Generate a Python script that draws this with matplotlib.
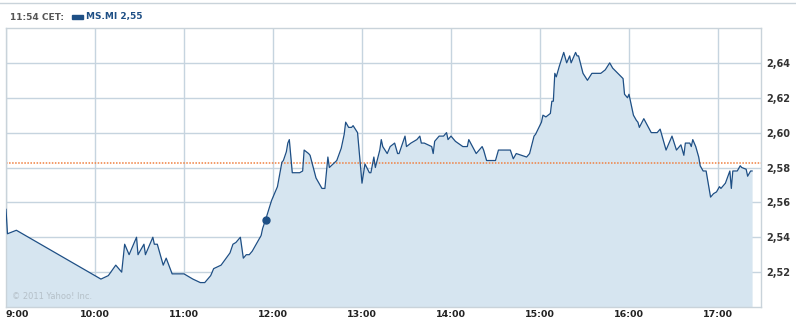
import numpy as np
import matplotlib
matplotlib.use("Agg")
import matplotlib.pyplot as plt
from matplotlib.lines import Line2D
from matplotlib.patches import Rectangle

# minutes after 9:00 and price (EUR) for MS.MI
minutes = [0, 1, 7, 64, 69, 74, 78, 80, 83, 88, 89, 93, 94, 99, 100, 102, 106, 108, 112, 120,
           124, 126, 131, 134, 138, 140, 145, 151, 153, 155, 158, 160, 162, 164, 166, 172, 173,
           175, 179, 183, 186, 187, 189, 190, 191, 193, 198, 200, 201, 204, 205, 209, 213, 215,
           217, 218, 223, 226, 228, 229, 231, 233, 234, 237, 240, 242, 245, 246, 248, 249, 252,
           253, 254, 257, 259, 262, 264, 265, 269, 270, 273, 277, 279, 280, 282, 287, 288, 289,
           292, 295, 297, 298, 300, 303, 308, 311, 312, 317, 321, 322, 324, 330, 332, 339, 340,
           342, 344, 351, 353, 356, 357, 361, 362, 364, 367, 368, 369, 370, 371, 373, 376, 378,
           380, 381, 384, 385, 386, 389, 392, 395, 401, 404, 407, 409, 416, 417, 419, 420, 423,
           425, 426, 427, 430, 435, 439, 441, 445, 449, 452, 455, 457, 458, 461, 462, 463, 465,
           467, 468, 470, 472, 475, 477, 479, 481, 482, 485, 488, 489, 490, 493, 495, 496, 499,
           500, 502, 503]
prices = [2.556, 2.542, 2.544, 2.516, 2.518, 2.524, 2.520, 2.536, 2.530, 2.540, 2.530, 2.536,
          2.530, 2.540, 2.536, 2.536, 2.524, 2.528, 2.519, 2.519,
          2.517, 2.516, 2.514, 2.514, 2.518, 2.522, 2.524, 2.531, 2.536, 2.537, 2.540, 2.528,
          2.530, 2.530, 2.532, 2.541, 2.545,
          2.550, 2.561, 2.569, 2.583, 2.584, 2.589, 2.594, 2.596, 2.577, 2.577, 2.578, 2.590,
          2.588, 2.587, 2.574, 2.568, 2.568,
          2.586, 2.580, 2.584, 2.591, 2.599, 2.606, 2.603, 2.603, 2.604, 2.600, 2.571, 2.582,
          2.577, 2.577, 2.586, 2.580, 2.590,
          2.596, 2.592, 2.588, 2.592, 2.594, 2.588, 2.588, 2.598, 2.592, 2.594, 2.596, 2.598,
          2.594, 2.594, 2.592, 2.588, 2.595,
          2.598, 2.598, 2.600, 2.596, 2.598, 2.595, 2.592, 2.592, 2.596, 2.588, 2.592, 2.590,
          2.584, 2.584, 2.590, 2.590, 2.590,
          2.585, 2.588, 2.586, 2.588, 2.598, 2.599, 2.606, 2.610, 2.609, 2.611, 2.618, 2.618,
          2.634, 2.632, 2.638, 2.646, 2.640,
          2.644, 2.640, 2.646, 2.644, 2.644, 2.634, 2.630, 2.634, 2.634, 2.636, 2.640, 2.637,
          2.631, 2.622, 2.620, 2.622, 2.610,
          2.607, 2.606, 2.603, 2.608, 2.600, 2.600, 2.602, 2.590, 2.598, 2.590, 2.593, 2.587,
          2.594, 2.594, 2.592, 2.596, 2.592,
          2.586, 2.581, 2.578, 2.578, 2.563, 2.565, 2.566, 2.569, 2.568, 2.571, 2.578, 2.568,
          2.578, 2.578, 2.581, 2.580, 2.579,
          2.575, 2.578, 2.578]

prev_close = 2.5823
marker_min, marker_price = 175, 2.550
hour_labels = ["9:00", "10:00", "11:00", "12:00", "13:00", "14:00", "15:00", "16:00", "17:00"]
price_ticks = [2.52, 2.54, 2.56, 2.58, 2.60, 2.62, 2.64]

line_col = "#1e4f85"
fill_col = "#d6e5f0"
grid_col = "#c6d4df"

fig = plt.figure(figsize=(7.96, 3.2), dpi=100)
W, H = 796, 320
ax = fig.add_axes([6 / W, 13 / H, 755 / W, 279 / H])

ax.fill_between(minutes, prices, 2.5, color=fill_col, lw=0, zorder=1)
ax.plot(minutes, prices, color=line_col, lw=0.9, zorder=3)
ax.plot([marker_min], [marker_price], "o", color=line_col, ms=5, zorder=4)
ax.axhline(prev_close, color="#f08040", lw=1.1, ls=(0, (1, 1)), zorder=2)

ax.set_xlim(0, 509)
ax.set_ylim(2.5, 2.66)

ax.set_xticks(np.arange(len(hour_labels)) * 60)
ax.set_xticklabels(hour_labels, fontsize=6.8, fontweight="bold", color="#222222")
ax.get_xticklabels()[0].set_horizontalalignment("left")
ax.set_yticks(price_ticks)
ax.set_yticklabels([f"{p:.2f}".replace(".", ",") for p in price_ticks],
                   fontsize=7, fontweight="bold", color="#333333")
ax.yaxis.tick_right()
ax.tick_params(length=0, pad=4)
ax.tick_params(axis="x", pad=2)
ax.grid(True, color=grid_col, lw=1.0, zorder=0)
ax.set_axisbelow(True)
for side in ["left", "right", "bottom", "top"]:
    ax.spines[side].set_color("#c9d3da")
    ax.spines[side].set_linewidth(1.0)

ax.text(0.008, 0.02, "© 2011 Yahoo! Inc.", transform=ax.transAxes, fontsize=6,
        color="#b5c0c8", va="bottom", ha="left", zorder=5)

# header strip
fig.add_artist(Line2D([0, 1], [1 - 3 / H, 1 - 3 / H], color="#c9d3da", lw=1.0))
fig.text(10 / W, 1 - 17 / H, "11:54 CET:", fontsize=6.5, fontweight="bold",
         color="#555555", va="center", ha="left")
fig.add_artist(Rectangle((72 / W, 1 - 19 / H), 11 / W, 4 / H, color=line_col,
                         transform=fig.transFigure))
fig.text(86 / W, 1 - 17 / H, "MS.MI 2,55", fontsize=6.5, fontweight="bold",
         color=line_col, va="center", ha="left")

fig.savefig("out.png", dpi=100)
